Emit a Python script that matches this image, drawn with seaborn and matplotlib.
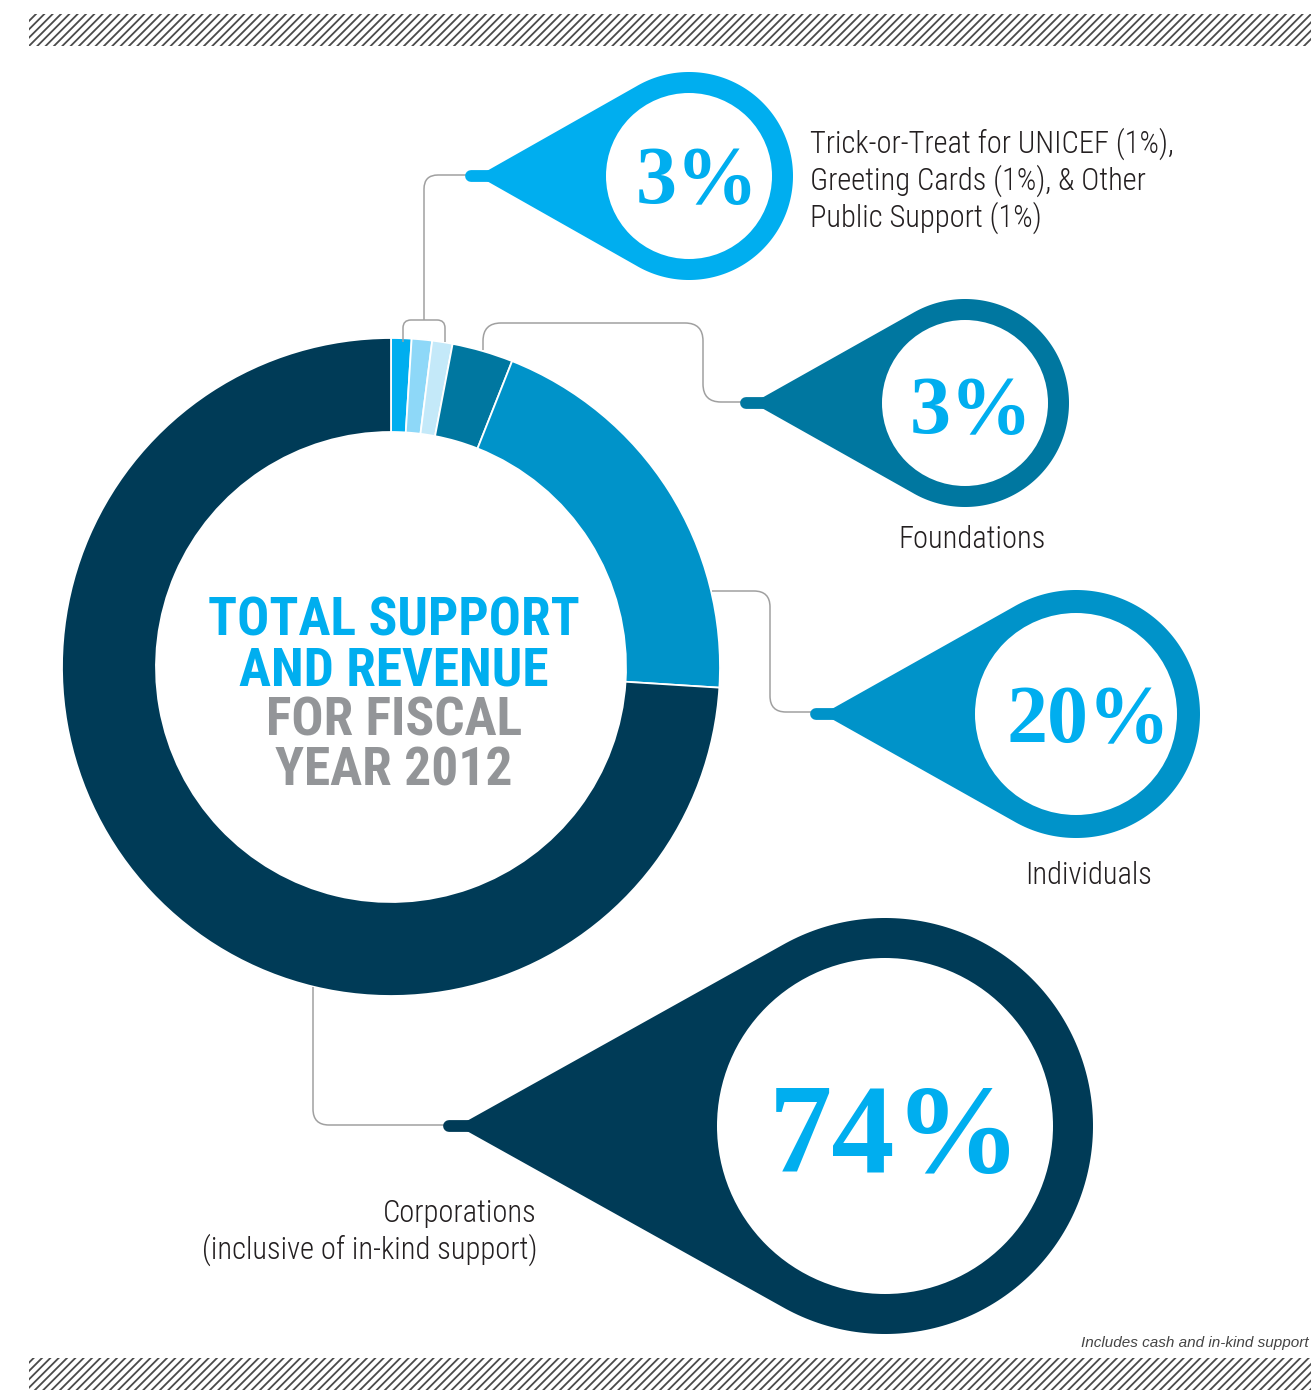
import numpy as np
import matplotlib
matplotlib.use("Agg")
import matplotlib.pyplot as plt
import seaborn as sns
from matplotlib import font_manager as fm
from matplotlib.patches import Polygon, Circle, Rectangle
from matplotlib.path import Path
from matplotlib.patches import PathPatch

# ---------------- data ----------------
segments = ["Trick-or-Treat for UNICEF", "Greeting Cards", "Other Public Support",
            "Foundations", "Individuals", "Corporations"]
shares = [1, 1, 1, 3, 20, 74]
seg_colors = ["#00AEEF", "#8ED8F8", "#C4E9F9", "#0077A0", "#0093C9", "#003B57"]

pin_values = [sum(shares[0:3]), shares[3], shares[4], shares[5]]
pin_colors = ["#00AEEF", "#0077A0", "#0093C9", "#003B57"]
pin_labels = ["Trick-or-Treat for UNICEF (1%),\nGreeting Cards (1%), & Other\nPublic Support (1%)",
              "Foundations", "Individuals",
              "Corporations\n(inclusive of in-kind support)"]
title_blue = ["TOTAL SUPPORT", "AND REVENUE"]
title_gray = ["FOR FISCAL", "YEAR 2012"]
footnote = "Includes cash and in-kind support"

# ---------------- fonts ----------------
sns.set_theme(style="white")
names = {f.name for f in fm.fontManager.ttflist}
cond_family, cond_stretch = "Liberation Sans", "normal"
for cand in ["Roboto Condensed", "Liberation Sans Narrow", "Open Sans Condensed"]:
    if cand in names:
        cond_family = cand
        break
else:
    if any(f.name == "DejaVu Sans" and "condensed" in str(f.stretch) for f in fm.fontManager.ttflist):
        cond_family, cond_stretch = "DejaVu Sans", "condensed"
serif_family = "Liberation Serif" if "Liberation Serif" in names else "DejaVu Serif"
plt.rcParams["font.family"] = [cond_family, "DejaVu Sans"]
plt.rcParams["hatch.linewidth"] = 1.3

W, H = 1311, 1397
fig = plt.figure(figsize=(W / 100, H / 100), dpi=100)
ax = fig.add_axes([0, 0, 1, 1])

# ---------------- donut ----------------
cx, cy, R, ring = 391, 667, 329, 94
ax.pie(shares, colors=seg_colors, startangle=-90, counterclock=True,
       radius=R, center=(cx, cy),
       wedgeprops=dict(width=ring, edgecolor="white", linewidth=1.3))
ax.set_xlim(0, W)
ax.set_ylim(H, 0)
ax.set_aspect("equal")
ax.axis("off")

# ---------------- helpers ----------------
def rounded(pts, r):
    pts = [np.array(p, float) for p in pts]
    verts, codes = [pts[0]], [Path.MOVETO]
    for i in range(1, len(pts) - 1):
        p0, p1, p2 = pts[i - 1], pts[i], pts[i + 1]
        d1 = (p1 - p0) / np.linalg.norm(p1 - p0)
        d2 = (p2 - p1) / np.linalg.norm(p2 - p1)
        verts += [p1 - d1 * r, p1, p1 + d2 * r]
        codes += [Path.LINETO, Path.CURVE3, Path.CURVE3]
    verts.append(pts[-1]); codes.append(Path.LINETO)
    return PathPatch(Path(verts, codes), fill=False, edgecolor="#A0A0A0", lw=1.1,
                     capstyle="butt", joinstyle="round")

def pin(pcx, pcy, ro, ri, stub_x0, tip_x, color, value, fs, tx, ty):
    d = pcx - tip_x
    a = np.arccos(ro / d)
    ts = np.linspace(np.pi - a, -(np.pi - a), 200)
    w = 4
    pts = [(tip_x, pcy - w)] + [(pcx + ro * np.cos(t), pcy - ro * np.sin(t)) for t in ts] + [(tip_x, pcy + w)]
    ax.add_patch(Polygon(pts, closed=True, facecolor=color, edgecolor="none"))
    ax.add_patch(Circle((pcx, pcy), ri, facecolor="white", edgecolor="none"))
    ax.plot([stub_x0 + 6, tip_x + 4], [pcy, pcy], color=color, lw=8.5,
            solid_capstyle="round")
    ax.text(tx, ty, f"{value}%", family=[serif_family], weight="bold", fontsize=fs,
            color="#00AEEF", ha="center", va="baseline")

# ---------------- connectors ----------------
ax.add_patch(rounded([(403, 342), (403, 320), (445, 320), (445, 342)], 8))
ax.add_patch(rounded([(424, 320), (424, 175), (466, 175)], 14))
ax.add_patch(rounded([(483, 350), (483, 323), (703, 323), (703, 402), (742, 402)], 18))
ax.add_patch(rounded([(712, 591), (770, 591), (770, 712), (812, 712)], 16))
ax.add_patch(rounded([(313, 987), (313, 1125), (445, 1125)], 16))

# ---------------- pins ----------------
pin(689, 176, 104, 83, 465, 485, pin_colors[0], pin_values[0], 59, 697, 203)
pin(965, 403, 104, 83, 740, 760, pin_colors[1], pin_values[1], 59, 971, 433)
pin(1076, 714, 124, 101, 810, 830, pin_colors[2], pin_values[2], 59, 1088, 742)
pin(885, 1126, 208, 168, 443, 465, pin_colors[3], pin_values[3], 91, 895, 1172)

# ---------------- labels ----------------
lab_kw = dict(color="#231F20", fontsize=22, weight="light", family=[cond_family, "DejaVu Sans"],
              fontstretch=cond_stretch, va="baseline")
for i, line in enumerate(pin_labels[0].split("\n")):
    ax.text(810, 153 + 37 * i, line, ha="left", **lab_kw)
ax.text(972, 548, pin_labels[1], ha="center", **lab_kw)
ax.text(1089, 884, pin_labels[2], ha="center", **lab_kw)
for i, line in enumerate(pin_labels[3].split("\n")):
    ax.text(537, 1222 + 37 * i, line, ha="right", **lab_kw)

ax.text(1309, 1347, footnote, ha="right", va="baseline", style="italic",
        fontsize=11, color="#444444", family=["Liberation Sans", "DejaVu Sans"])

# ---------------- title ----------------
t_kw = dict(fontsize=38.5, weight="bold", family=[cond_family, "DejaVu Sans"],
            fontstretch=cond_stretch, ha="center", va="baseline")
for i, line in enumerate(title_blue):
    ax.text(394, 636 + 50 * i, line, color="#00AEEF", **t_kw)
for i, line in enumerate(title_gray):
    ax.text(394, 736 + 50 * i, line, color="#939598", **t_kw)

# ---------------- hatched bands ----------------
for y0 in (14, 1358):
    ax.add_patch(Rectangle((29, y0), W - 29, 32, facecolor="none", edgecolor="#4A4A4A",
                           hatch="////", linewidth=0))

fig.savefig("out.png", dpi=100, facecolor="white")
